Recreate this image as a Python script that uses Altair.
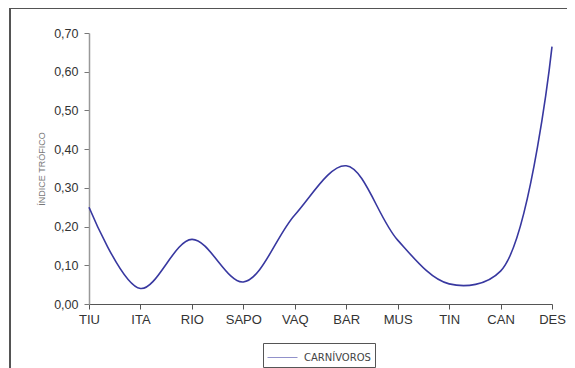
import altair as alt
import pandas as pd

sites = ["TIU", "ITA", "RIO", "SAPO", "VAQ", "BAR", "MUS", "TIN", "CAN", "DES"]
carnivoros = [0.25, 0.04, 0.167, 0.057, 0.23, 0.357, 0.165, 0.052, 0.085, 0.665]
series_name = "CARNÍVOROS"
y_ticks = [0.0, 0.1, 0.2, 0.3, 0.4, 0.5, 0.6, 0.7]

df = pd.DataFrame({"site": sites, "value": carnivoros, "serie": series_name})

FONT = "Liberation Sans"

line = alt.Chart(df).mark_line(
    interpolate="catmull-rom", strokeWidth=1.6, clip=False
).encode(
    x=alt.X("site:N", sort=sites, scale=alt.Scale(type="point", padding=0),
            axis=alt.Axis(title=None, labelAngle=0, tickSize=5, labelPadding=4,
                          labelFontSize=13, labelColor="#333333", domainColor="#555555",
                          tickColor="#555555", labelFont=FONT, grid=False)),
    y=alt.Y("value:Q", scale=alt.Scale(domain=[0, 0.7], nice=False),
            axis=alt.Axis(title="ÍNDICE TRÓFICO", values=y_ticks, tickSize=5,
                          labelExpr="replace(format(datum.value, '.2f'), '.', ',')",
                          labelFontSize=12.5, labelColor="#333333", labelPadding=6,
                          domainColor="#999999", domainWidth=1.5, tickColor="#777777",
                          titleFontSize=9, titleFontWeight="normal", titleColor="#777777",
                          titlePadding=7, titleFont=FONT, labelFont=FONT, grid=False)),
    color=alt.Color("serie:N", scale=alt.Scale(range=["#3838a0"]),
                    legend=alt.Legend(title=None, orient="none", legendX=174, legendY=310,
                                      strokeColor="#555555", padding=4,
                                      symbolType="M-1,0H2", symbolSize=400,
                                      symbolStrokeWidth=1, symbolOpacity=0.55,
                                      labelFontSize=10, labelColor="#444444",
                                      labelFont="DejaVu Sans", labelOffset=16)),
)

frame_top = alt.Chart(df).mark_rule(color="#555555", strokeWidth=1.2, clip=False).encode(
    x=alt.value(-79), x2=alt.value(600), y=alt.value(-25)
)
frame_left = alt.Chart(df).mark_rule(color="#555555", strokeWidth=1.2, clip=False).encode(
    x=alt.value(-79), y=alt.value(-25), y2=alt.value(400)
)

chart = alt.layer(frame_top, frame_left, line).properties(
    width=463, height=271,
    padding={"left": 81, "top": 25, "right": 15, "bottom": 70},
    autosize=alt.AutoSizeParams(type="none"),
    background="white",
).configure_view(stroke=None)

chart.save("out.html", embed_options={"renderer": "svg", "actions": False})
